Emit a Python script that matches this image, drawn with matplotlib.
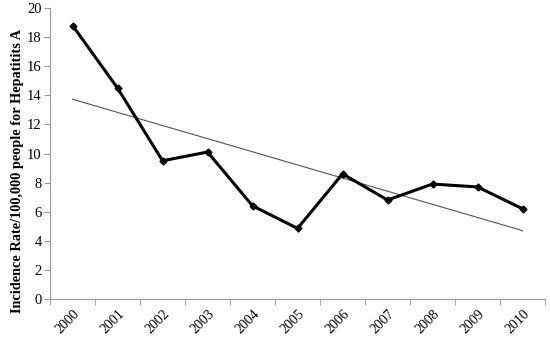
import matplotlib
matplotlib.use('Agg')
import matplotlib.pyplot as plt
import numpy as np

years = ['2000', '2001', '2002', '2003', '2004', '2005', '2006', '2007', '2008', '2009', '2010']
incidence = [18.8, 14.5, 9.5, 10.1, 6.4, 4.85, 8.6, 6.8, 7.9, 7.7, 6.2]

plt.rcParams['font.family'] = ['Liberation Serif', 'DejaVu Serif']

fig = plt.figure(figsize=(5.5, 3.37), dpi=100)
ax = fig.add_axes([0.091, 0.113, 0.9, 0.863])

x = np.arange(len(years))
ax.plot(x, incidence, color='black', linewidth=2.2, marker='D', markersize=3.5, zorder=3)

# linear trendline (like Excel)
slope, intercept = np.polyfit(x, incidence, 1)
ax.plot(x, slope * x + intercept, color='#555555', linewidth=0.8, zorder=2)

ax.set_xlim(-0.5, len(years) - 0.5)
ax.set_ylim(0, 20)
ax.set_yticks(range(0, 21, 2))
ax.set_xticks(x)
ax.set_xticklabels(years, rotation=45, ha='right', rotation_mode='anchor', fontsize=10)
ax.set_xticks(np.arange(-0.5, len(years)), minor=True)
ax.tick_params(axis='x', which='major', length=0, pad=6)
ax.tick_params(axis='x', which='minor', length=4, color='#999999', direction='out')
ax.tick_params(axis='y', length=4, color='#999999', labelsize=10.5, pad=2)

for side in ['top', 'right']:
    ax.spines[side].set_visible(False)
for side in ['left', 'bottom']:
    ax.spines[side].set_color('#999999')
    ax.spines[side].set_linewidth(0.8)

ax.set_ylabel('Incidence Rate/100,000 people for Hepatitits A', fontweight='bold', fontsize=10.3)
ax.yaxis.set_label_coords(-0.052, 0.44)

fig.savefig('out.png', dpi=100)
